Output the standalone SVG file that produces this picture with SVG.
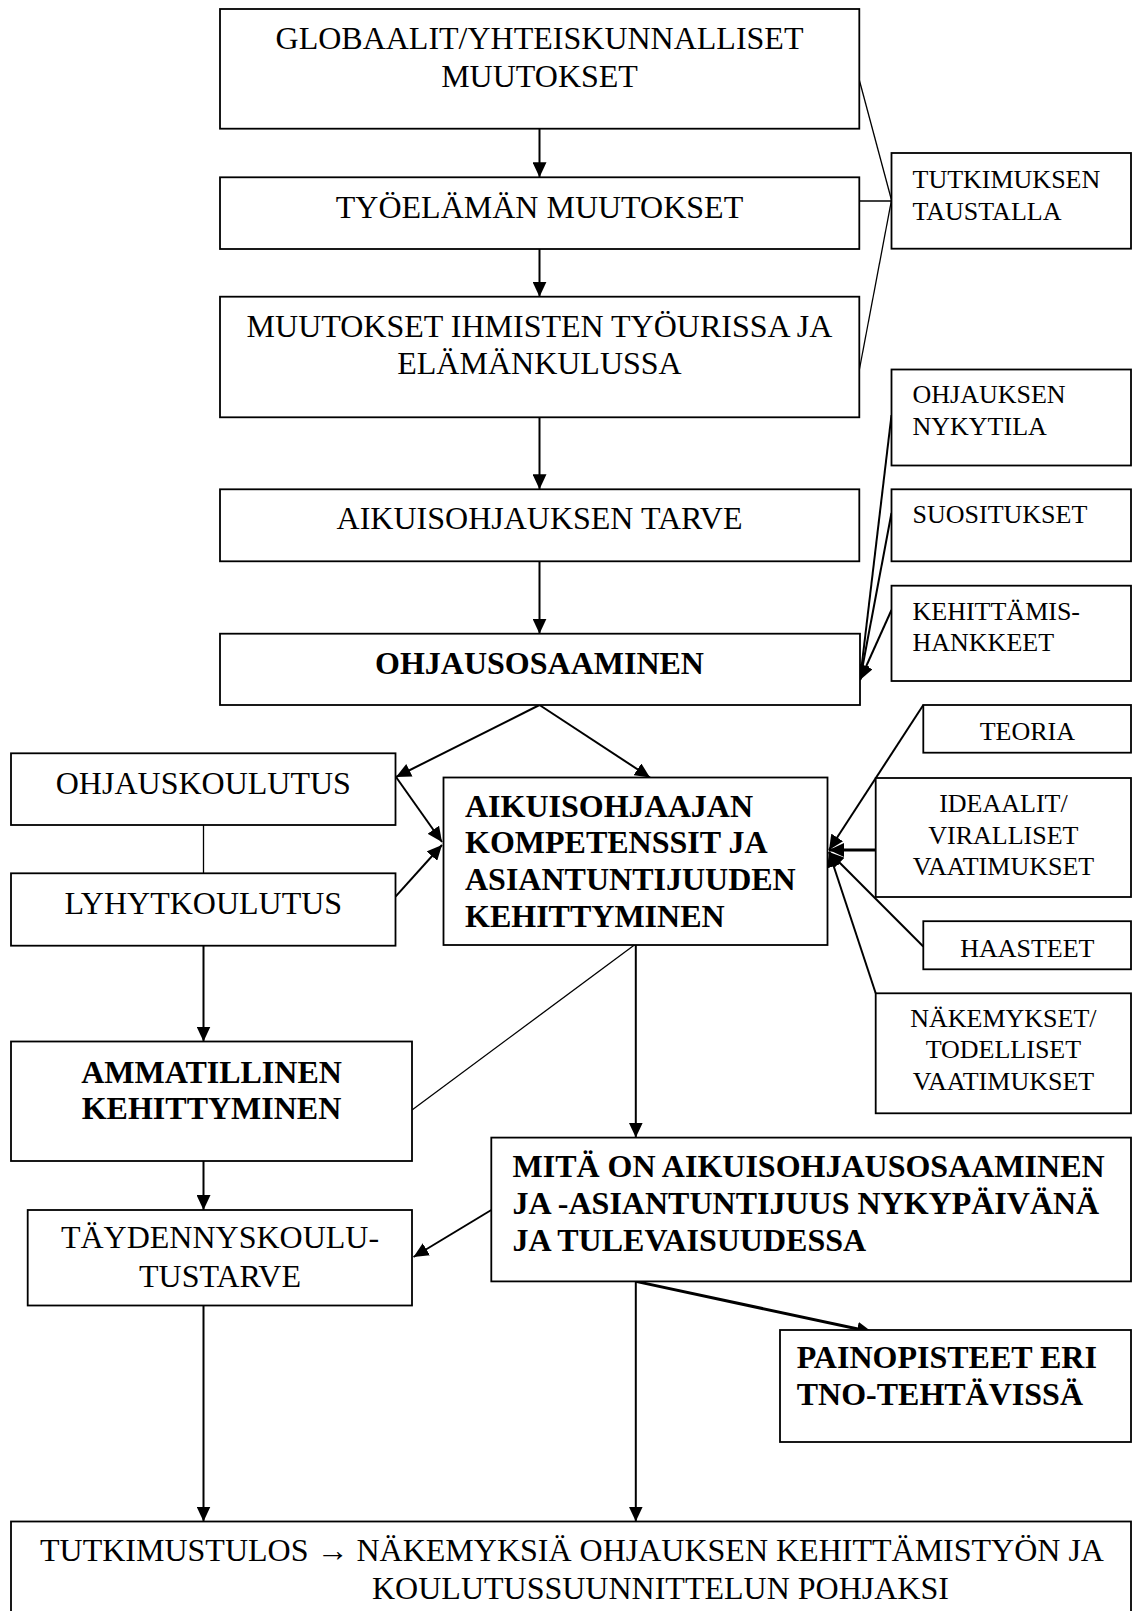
<svg xmlns="http://www.w3.org/2000/svg" width="1133" height="1611" viewBox="0 0 1133 1611">
<defs>
<marker id="ah" markerUnits="userSpaceOnUse" markerWidth="16" markerHeight="14" refX="15" refY="7" orient="auto">
<path d="M0,0 L15,7 L0,14 z" fill="#000"/>
</marker>
<style>
.box{fill:#fff;stroke:#000;stroke-width:1.8}
.t{font-family:"Liberation Serif","Times New Roman",serif;font-size:32px;fill:#000}
.b{font-weight:bold}
.s{font-family:"Liberation Serif","Times New Roman",serif;font-size:26px;fill:#000}
.m{text-anchor:middle}
.a{stroke:#000;stroke-width:2;fill:none;marker-end:url(#ah)}
.l{stroke:#000;stroke-width:1.3;fill:none}
.ta{stroke:#000;stroke-width:3;fill:none;marker-end:url(#ah)}
</style>
</defs>
<rect width="1133" height="1611" fill="#fff"/>
<g id="connectors">
<line class="a" x1="539.5" y1="128.7" x2="539.5" y2="177.3"/>
<line class="a" x1="539.5" y1="249" x2="539.5" y2="296.7"/>
<line class="a" x1="539.5" y1="417.3" x2="539.5" y2="489.3"/>
<line class="a" x1="539.5" y1="561.3" x2="539.5" y2="633.7"/>
<line class="l" x1="859.3" y1="80" x2="891.5" y2="200"/>
<line class="l" x1="859.3" y1="201" x2="891.5" y2="201"/>
<line class="l" x1="859.3" y1="370" x2="891.5" y2="200"/>
<line class="a" stroke-width="1.5" x1="891.5" y1="415" x2="860" y2="680"/>
<line class="a" stroke-width="1.5" x1="891.5" y1="513" x2="860" y2="680"/>
<line class="a" x1="891.5" y1="610" x2="860" y2="680"/>
<line class="a" x1="539.5" y1="705" x2="396" y2="777"/>
<line class="a" x1="539.5" y1="705" x2="650" y2="777.5"/>
<line class="a" x1="396" y1="777" x2="442" y2="842"/>
<line class="a" x1="395.5" y1="896.7" x2="442" y2="845"/>
<line class="l" x1="203.5" y1="825" x2="203.5" y2="873.3"/>
<line class="a" x1="203.5" y1="945.7" x2="203.5" y2="1041.5"/>
<line class="l" x1="634.4" y1="945" x2="412" y2="1110"/>
<line class="a" x1="635.8" y1="945" x2="635.8" y2="1137.6"/>
<line class="a" x1="203.5" y1="1161" x2="203.5" y2="1210"/>
<line class="a" x1="491.3" y1="1210" x2="413.5" y2="1257"/>
<line class="ta" x1="635.8" y1="1281.4" x2="872" y2="1332"/>
<line class="a" x1="635.8" y1="1281.4" x2="635.8" y2="1521.5"/>
<line class="a" x1="203.5" y1="1305.5" x2="203.5" y2="1521.5"/>
<line class="a" x1="923.3" y1="705" x2="829" y2="850"/>
<line class="ta" x1="875.7" y1="850" x2="829" y2="850"/>
<line class="a" x1="923.3" y1="946.5" x2="829" y2="852"/>
<line class="a" x1="875.7" y1="993.3" x2="829" y2="852"/>
</g>
<g id="n1"><rect class="box" x="220" y="9" width="639.3" height="119.7"/>
<text class="t m" x="539.5" y="49.3">GLOBAALIT/YHTEISKUNNALLISET</text>
<text class="t m" x="539.5" y="87.3">MUUTOKSET</text></g>
<g id="n2"><rect class="box" x="220" y="177.3" width="639.3" height="71.7"/>
<text class="t m" x="539.5" y="218.3">TYÖELÄMÄN MUUTOKSET</text></g>
<g id="n3"><rect class="box" x="220" y="296.7" width="639.3" height="120.6"/>
<text class="t m" x="539.5" y="336.7">MUUTOKSET IHMISTEN TYÖURISSA JA</text>
<text class="t m" x="539.5" y="374">ELÄMÄNKULUSSA</text></g>
<g id="n4"><rect class="box" x="220" y="489.3" width="639.3" height="72"/>
<text class="t m" x="539.5" y="529.3">AIKUISOHJAUKSEN TARVE</text></g>
<g id="n5"><rect class="box" x="220" y="633.7" width="640" height="71.3"/>
<text class="t b m" x="539.5" y="674">OHJAUSOSAAMINEN</text></g>
<g id="n6"><rect class="box" x="891.5" y="153" width="239.5" height="95.7"/>
<text class="s" x="912.5" y="188.3">TUTKIMUKSEN</text>
<text class="s" x="912.5" y="220">TAUSTALLA</text></g>
<g id="n7"><rect class="box" x="891.5" y="369.5" width="239.5" height="96"/>
<text class="s" x="912.5" y="403.3">OHJAUKSEN</text>
<text class="s" x="912.5" y="435">NYKYTILA</text></g>
<g id="n8"><rect class="box" x="891.5" y="489.3" width="239.5" height="72"/>
<text class="s" x="912.5" y="523.3">SUOSITUKSET</text></g>
<g id="n9"><rect class="box" x="891.5" y="585.7" width="239.5" height="95.3"/>
<text class="s" x="912.5" y="620">KEHITTÄMIS-</text>
<text class="s" x="912.5" y="651">HANKKEET</text></g>
<g id="n10"><rect class="box" x="923.3" y="705" width="207.7" height="47.7"/>
<text class="s m" x="1027.3" y="740">TEORIA</text></g>
<g id="n11"><rect class="box" x="875.7" y="778" width="255.3" height="119"/>
<text class="s m" x="1003.4" y="812">IDEAALIT/</text>
<text class="s m" x="1003.4" y="843.5">VIRALLISET</text>
<text class="s m" x="1003.4" y="874.5">VAATIMUKSET</text></g>
<g id="n12"><rect class="box" x="923.3" y="921.2" width="207.7" height="48.1"/>
<text class="s m" x="1027.3" y="957">HAASTEET</text></g>
<g id="n13"><rect class="box" x="875.7" y="993.3" width="255.3" height="120"/>
<text class="s m" x="1003.4" y="1026.7">NÄKEMYKSET/</text>
<text class="s m" x="1003.4" y="1058.3">TODELLISET</text>
<text class="s m" x="1003.4" y="1090">VAATIMUKSET</text></g>
<g id="n14"><rect class="box" x="11" y="753.3" width="384.5" height="71.7"/>
<text class="t m" x="203.3" y="794">OHJAUSKOULUTUS</text></g>
<g id="n15"><rect class="box" x="11" y="873.3" width="384.5" height="72.4"/>
<text class="t m" x="203.3" y="914">LYHYTKOULUTUS</text></g>
<g id="n16"><rect class="box" x="443.5" y="777.5" width="384" height="167.5"/>
<text class="t b" x="465" y="816.7">AIKUISOHJAAJAN</text>
<text class="t b" x="465" y="853.3">KOMPETENSSIT JA</text>
<text class="t b" x="465" y="890">ASIANTUNTIJUUDEN</text>
<text class="t b" x="465" y="926.7">KEHITTYMINEN</text></g>
<g id="n17"><rect class="box" x="11" y="1041.5" width="401" height="119.5"/>
<text class="t b m" x="211.5" y="1082.7">AMMATILLINEN</text>
<text class="t b m" x="211.5" y="1119.3">KEHITTYMINEN</text></g>
<g id="n18"><rect class="box" x="27.7" y="1210" width="384.3" height="95.5"/>
<text class="t m" x="220" y="1248.3">TÄYDENNYSKOULU-</text>
<text class="t m" x="220" y="1286.7">TUSTARVE</text></g>
<g id="n19"><rect class="box" x="491.3" y="1137.6" width="639.7" height="143.8"/>
<text class="t b" x="512.5" y="1176.5">MITÄ ON AIKUISOHJAUSOSAAMINEN</text>
<text class="t b" x="512.5" y="1213.5">JA -ASIANTUNTIJUUS NYKYPÄIVÄNÄ</text>
<text class="t b" x="512.5" y="1250.5">JA TULEVAISUUDESSA</text></g>
<g id="n20"><rect class="box" x="780" y="1330" width="351" height="112"/>
<text class="t b" x="796.7" y="1368.3">PAINOPISTEET ERI</text>
<text class="t b" x="796.7" y="1405">TNO-TEHTÄVISSÄ</text></g>
<g id="n21"><rect class="box" x="11" y="1521.5" width="1120" height="110"/>
<text class="t" x="40" y="1561">TUTKIMUSTULOS → NÄKEMYKSIÄ OHJAUKSEN KEHITTÄMISTYÖN JA</text>
<text class="t" x="372" y="1599">KOULUTUSSUUNNITTELUN POHJAKSI</text></g>
</svg>
